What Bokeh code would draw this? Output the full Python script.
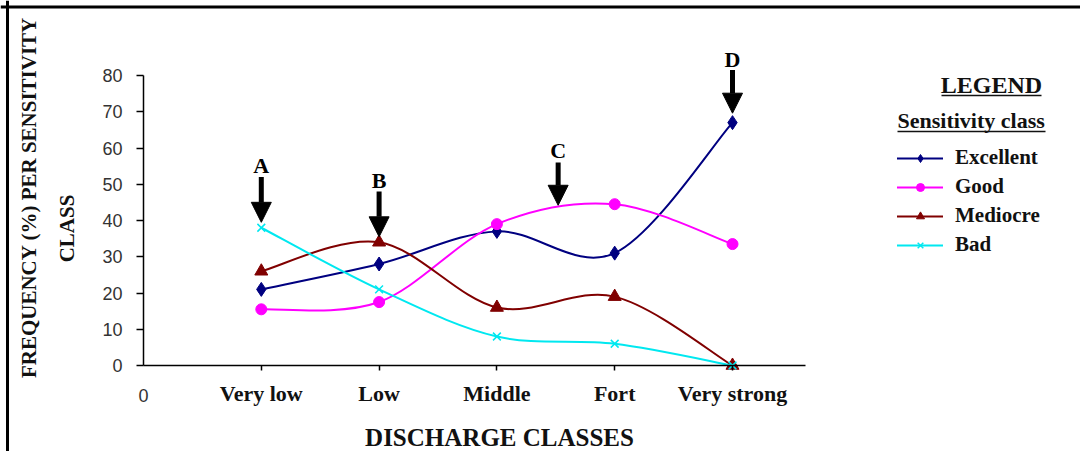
import math
from bokeh.plotting import figure
from bokeh.models import (Range1d, FixedTicker, Label, Arrow, NormalHead,
                          Legend, LegendItem, Span)
from bokeh.embed import file_html
from bokeh.resources import INLINE

# ---------------- data ----------------
categories = ["Very low", "Low", "Middle", "Fort", "Very strong"]
class_pos = [1, 2, 3, 4, 5]
excellent = [21, 28, 37, 31, 67]
good = [15.5, 17.5, 39, 44.5, 33.5]
mediocre = [26, 34, 16, 19, 0]
bad = [38, 21, 8, 6, 0]
y_ticks = [0, 10, 20, 30, 40, 50, 60, 70, 80]

# arrows (annotations)
arrow_names = ["A", "B", "C", "D"]
arrow_x = [1, 2, 3.52, 5]
arrow_top = [52, 48, 56, 81.5]
arrow_tip = [39.5, 35.5, 44.2, 69.6]
arrow_label_y = [55.3, 50.9, 59.4, 84.3]

# ---------------- geometry ----------------
W, H = 1080, 451
X0_PX, Y0_PX = 143, 365          # pixel position of data origin
PX_PER_X = 117.8
PX_PER_Y = 3.625

x_start = -X0_PX / PX_PER_X
x_end = (W - X0_PX) / PX_PER_X
y_end = Y0_PX / PX_PER_Y
y_start = (Y0_PX - H) / PX_PER_Y

SERIF = "Liberation Serif"
SANS = "Liberation Sans"

p = figure(width=W, height=H, x_range=Range1d(x_start, x_end),
           y_range=Range1d(y_start, y_end),
           output_backend="svg", toolbar_location=None,
           min_border_left=0, min_border_right=0, min_border_top=0, min_border_bottom=0)
p.outline_line_color = None
p.grid.visible = False
p.background_fill_color = "white"
p.border_fill_color = "white"

# x axis
p.xaxis.fixed_location = 0
p.xaxis.ticker = FixedTicker(ticks=class_pos, minor_ticks=[])
p.xaxis.major_label_overrides = {pos: c for c, pos in zip(categories, class_pos)}
p.xaxis.bounds = (0, 5.62)
p.xaxis.major_label_text_font = SERIF
p.xaxis.major_label_text_font_style = "bold"
p.xaxis.major_label_text_font_size = "22px"
p.xaxis.major_label_text_color = "#111"
p.xaxis.major_label_standoff = 10
p.xaxis.major_tick_out = 5
p.xaxis.major_tick_in = 0
p.xaxis.minor_tick_line_color = None
p.xaxis.axis_line_width = 1.5
p.xaxis.major_tick_line_width = 1.5

# y axis
p.yaxis.fixed_location = 0
p.yaxis.ticker = FixedTicker(ticks=y_ticks, minor_ticks=[])
p.yaxis.bounds = (0, 80)
p.yaxis.major_label_text_font = SANS
p.yaxis.major_label_text_font_size = "18px"
p.yaxis.major_label_text_color = "#333"
p.yaxis.major_label_standoff = 14
p.yaxis.major_tick_out = 7
p.yaxis.major_tick_in = 0
p.yaxis.minor_tick_line_color = None
p.yaxis.axis_line_width = 1.5
p.yaxis.major_tick_line_width = 1.5


def smooth_ctrl(xs, ys):
    n = len(xs)
    x0, y0, x1, y1, cx0, cy0, cx1, cy1 = [], [], [], [], [], [], [], []
    for i in range(n - 1):
        im = max(i - 1, 0)
        ip2 = min(i + 2, n - 1)
        x0.append(xs[i]); y0.append(ys[i])
        x1.append(xs[i + 1]); y1.append(ys[i + 1])
        cx0.append(xs[i] + (xs[i + 1] - xs[im]) / 6)
        cy0.append(ys[i] + (ys[i + 1] - ys[im]) / 6)
        cx1.append(xs[i + 1] - (xs[ip2] - xs[i]) / 6)
        cy1.append(ys[i + 1] - (ys[ip2] - ys[i]) / 6)
    return dict(x0=x0, y0=y0, x1=x1, y1=y1, cx0=cx0, cy0=cy0, cx1=cx1, cy1=cy1)


series = [
    ("Excellent", excellent, "#000080", "diamond", 14),
    ("Good", good, "#FF00FF", "circle", 11),
    ("Mediocre", mediocre, "#800000", "triangle", 13),
    ("Bad", bad, "#00E8F0", "x", 11),
]

items = []
for name, vals, col, mk, sz in series:
    c = smooth_ctrl(class_pos, vals)
    rl = p.bezier(line_color=col, line_width=2, line_cap="round", **c)
    if mk == "x":
        rm = p.scatter(class_pos, vals, marker=mk, size=sz, line_color=col, line_width=1.5)
    else:
        rm = p.scatter(class_pos, vals, marker=mk, size=sz, fill_color=col, line_color=col)
    items.append(LegendItem(label=name, renderers=[rl, rm]))

# legend: location = (left, bottom) in screen px from frame bottom-left
legend = Legend(items=items, location=(897, H - 257), padding=0, margin=0, spacing=4,
                glyph_width=46, glyph_height=20, label_height=20, label_standoff=12,
                label_text_font=SERIF, label_text_font_style="bold",
                label_text_font_size="21px", label_text_color="#111",
                border_line_color=None, background_fill_alpha=0)
p.add_layout(legend)

# arrows A-D
for nm, ax, at, tip, ly in zip(arrow_names, arrow_x, arrow_top, arrow_tip, arrow_label_y):
    p.add_layout(Arrow(x_start=ax, y_start=at, x_end=ax, y_end=tip, line_width=5,
                       line_color="black",
                       end=NormalHead(size=20, fill_color="black", line_color="black",
                                      line_width=1)))
    p.add_layout(Label(x=ax, y=ly, text=nm, text_align="center", text_baseline="middle",
                       text_font=SERIF, text_font_style="bold", text_font_size="22px",
                       text_color="black"))


def plabel(px, py, text, font=SERIF, size="21px", align="center", angle=0.0,
           bold=True, color="#111"):
    """Label positioned by pixel position (from top-left of the canvas)."""
    p.add_layout(Label(x=px, y=H - py, x_units="screen", y_units="screen", text=text,
                       text_align=align, text_baseline="middle", angle=angle,
                       text_font=font, text_font_style="bold" if bold else "normal",
                       text_font_size=size, text_color=color))


# axis titles
plabel(28.5, 197, "FREQUENCY (%) PER SENSITIVITY", size="21px", angle=math.pi / 2)
plabel(66, 228, "CLASS", size="21px", angle=math.pi / 2)
plabel(499, 437, "DISCHARGE CLASSES", size="25px")
plabel(X0_PX, 395, "0", font=SANS, size="18px", bold=False, color="#333")

# legend headers
plabel(991, 84, "LEGEND", size="24px")
plabel(897, 120, "Sensitivity class", size="22px", align="left")


def underline(px0, px1, py):
    p.add_layout(Arrow(x_start=px0, y_start=H - py, x_end=px1, y_end=H - py,
                       start=None, end=None, start_units="screen", end_units="screen",
                       line_color="#111", line_width=1.5))


underline(941, 1041, 95)
underline(897, 1045, 131)

# frame border of the original figure (left and top edges)
p.add_layout(Span(location=7, location_units="screen", dimension="height",
                  line_color="black", line_width=3))
p.add_layout(Span(location=H - 6.5, location_units="screen", dimension="width",
                  line_color="black", line_width=3))

open("out.html", "w").write(file_html(p, INLINE))
